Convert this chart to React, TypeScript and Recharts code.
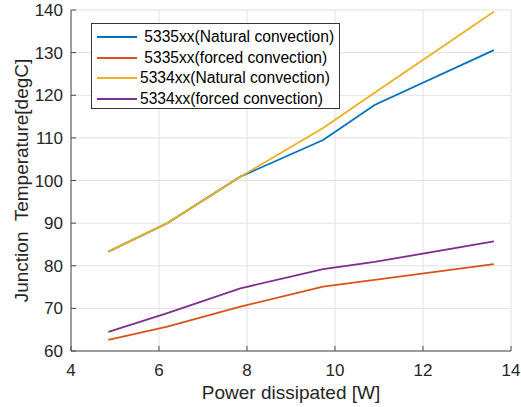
import { LineChart, Line, XAxis, YAxis, CartesianGrid, Legend } from "recharts";

const power = [4.85, 6.19, 7.85, 9.73, 10.9, 13.61];
const natural5335 = [83.3, 90.0, 100.9, 109.5, 117.7, 130.6];
const forced5335 = [62.6, 65.7, 70.4, 75.1, 76.7, 80.4];
const natural5334 = [83.3, 90.0, 100.9, 112.3, 120.6, 139.6];
const forced5334 = [64.5, 68.9, 74.7, 79.2, 80.9, 85.7];

const xTicks = [4, 6, 8, 10, 12, 14];
const yTicks = [60, 70, 80, 90, 100, 110, 120, 130, 140];

const seriesNames = [
  " 5335xx(Natural convection)",
  " 5335xx(forced convection)",
  "5334xx(Natural convection)",
  "5334xx(forced convection)",
];

const data = power.map((p, i) => ({
  power: p,
  n5335: natural5335[i],
  f5335: forced5335[i],
  n5334: natural5334[i],
  f5334: forced5334[i],
}));

const AXIS = "#4a4a4a";
const TEXT = "#262626";
const FONT = "'Liberation Sans', Arial, sans-serif";

function BottomTick(props: any) {
  const { x, y, payload } = props;
  const axisY = y - 8;
  return (
    <g>
      <line x1={x} x2={x} y1={axisY} y2={axisY - 5} stroke={AXIS} />
      <text x={x} y={axisY + 25} textAnchor="middle" fill={TEXT} fontSize={17}>
        {payload.value}
      </text>
    </g>
  );
}

function LeftTick(props: any) {
  const { x, y, payload } = props;
  const axisX = x + 8;
  return (
    <g>
      <line x1={axisX} x2={axisX + 5} y1={y} y2={y} stroke={AXIS} />
      <text x={axisX - 8} y={y} dy={6} textAnchor="end" fill={TEXT} fontSize={17}>
        {payload.value}
      </text>
    </g>
  );
}

function TopTick(props: any) {
  const { x, y } = props;
  return <line x1={x} x2={x} y1={y} y2={y + 5} stroke={AXIS} />;
}

function RightTick(props: any) {
  const { x, y } = props;
  return <line x1={x} x2={x - 5} y1={y} y2={y} stroke={AXIS} />;
}

function LegendBox(props: any) {
  const items = props.payload ?? [];
  return (
    <div
      style={{
        width: 249,
        height: 86,
        boxSizing: "border-box",
        border: "1px solid #333",
        background: "#fff",
        position: "relative",
        fontFamily: FONT,
      }}
    >
      {items.map((it: any, i: number) => (
        <div
          key={i}
          style={{
            position: "absolute",
            left: 4,
            top: 3 + i * 20.6,
            height: 20,
            display: "flex",
            alignItems: "center",
          }}
        >
          <svg width={42} height={20}>
            <line x1={1} x2={41} y1={10} y2={10} stroke={it.color} strokeWidth={2} />
          </svg>
          <span
            style={{
              whiteSpace: "pre",
              fontSize: 15.6,
              color: "#000",
              marginLeft: 2,
            }}
          >
            {it.value}
          </span>
        </div>
      ))}
    </div>
  );
}

export default function App() {
  return (
    <div
      style={{
        position: "absolute",
        left: 0,
        top: 0,
        width: 521,
        height: 407,
        background: "#fff",
        fontFamily: FONT,
      }}
    >
      <LineChart
        width={521}
        height={407}
        data={data}
        margin={{ top: 10, right: 10, bottom: 0, left: 0 }}
        style={{ fontFamily: FONT }}
      >
        <CartesianGrid xAxisId="bottom" yAxisId="left" stroke="#e2e2e2" />
        <XAxis
          xAxisId="bottom"
          dataKey="power"
          type="number"
          domain={[4, 14]}
          ticks={xTicks}
          interval={0}
          height={56}
          tickSize={0}
          tickMargin={8}
          tickLine={false}
          axisLine={{ stroke: AXIS }}
          tick={BottomTick}
          label={(p: any) => {
            const vb = p.viewBox;
            return (
              <text
                x={vb.x + vb.width / 2}
                y={vb.y + 48}
                textAnchor="middle"
                fill={TEXT}
                fontSize={19}
              >
                Power dissipated [W]
              </text>
            );
          }}
        />
        <XAxis
          xAxisId="top"
          orientation="top"
          type="number"
          domain={[4, 14]}
          ticks={xTicks}
          interval={0}
          height={0}
          tickSize={0}
          tickMargin={0}
          tickLine={false}
          axisLine={{ stroke: AXIS }}
          tick={TopTick}
          allowDataOverflow
        />
        <YAxis
          yAxisId="left"
          type="number"
          domain={[60, 140]}
          ticks={yTicks}
          interval={0}
          width={71}
          tickSize={0}
          tickMargin={8}
          tickLine={false}
          axisLine={{ stroke: AXIS }}
          tick={LeftTick}
          label={(p: any) => {
            const vb = p.viewBox;
            const cx = vb.x + 27.5;
            const cy = vb.y + vb.height / 2;
            return (
              <text
                x={cx}
                y={cy}
                transform={`rotate(-90, ${cx}, ${cy})`}
                textAnchor="middle"
                fill={TEXT}
                fontSize={19}
                style={{ whiteSpace: "pre" }}
              >
                {"Junction  Temperature[degC]"}
              </text>
            );
          }}
        />
        <YAxis
          yAxisId="right"
          orientation="right"
          type="number"
          domain={[60, 140]}
          ticks={yTicks}
          interval={0}
          width={0}
          tickSize={0}
          tickMargin={0}
          tickLine={false}
          axisLine={{ stroke: AXIS }}
          tick={RightTick}
          allowDataOverflow
        />
        <Legend
          layout="horizontal"
          verticalAlign="middle"
          align="center"
          content={LegendBox}
          wrapperStyle={{ left: 91, top: 23, width: 249, height: 86 }}
        />
        <Line
          xAxisId="bottom"
          yAxisId="left"
          dataKey="n5335"
          name={seriesNames[0]}
          stroke="#0072BD"
          strokeWidth={1.8}
          dot={false}
          isAnimationActive={false}
        />
        <Line
          xAxisId="bottom"
          yAxisId="left"
          dataKey="f5335"
          name={seriesNames[1]}
          stroke="#D95319"
          strokeWidth={1.8}
          dot={false}
          isAnimationActive={false}
        />
        <Line
          xAxisId="bottom"
          yAxisId="left"
          dataKey="n5334"
          name={seriesNames[2]}
          stroke="#EDB120"
          strokeWidth={1.8}
          dot={false}
          isAnimationActive={false}
        />
        <Line
          xAxisId="bottom"
          yAxisId="left"
          dataKey="f5334"
          name={seriesNames[3]}
          stroke="#7E2F8E"
          strokeWidth={1.8}
          dot={false}
          isAnimationActive={false}
        />
      </LineChart>
    </div>
  );
}
